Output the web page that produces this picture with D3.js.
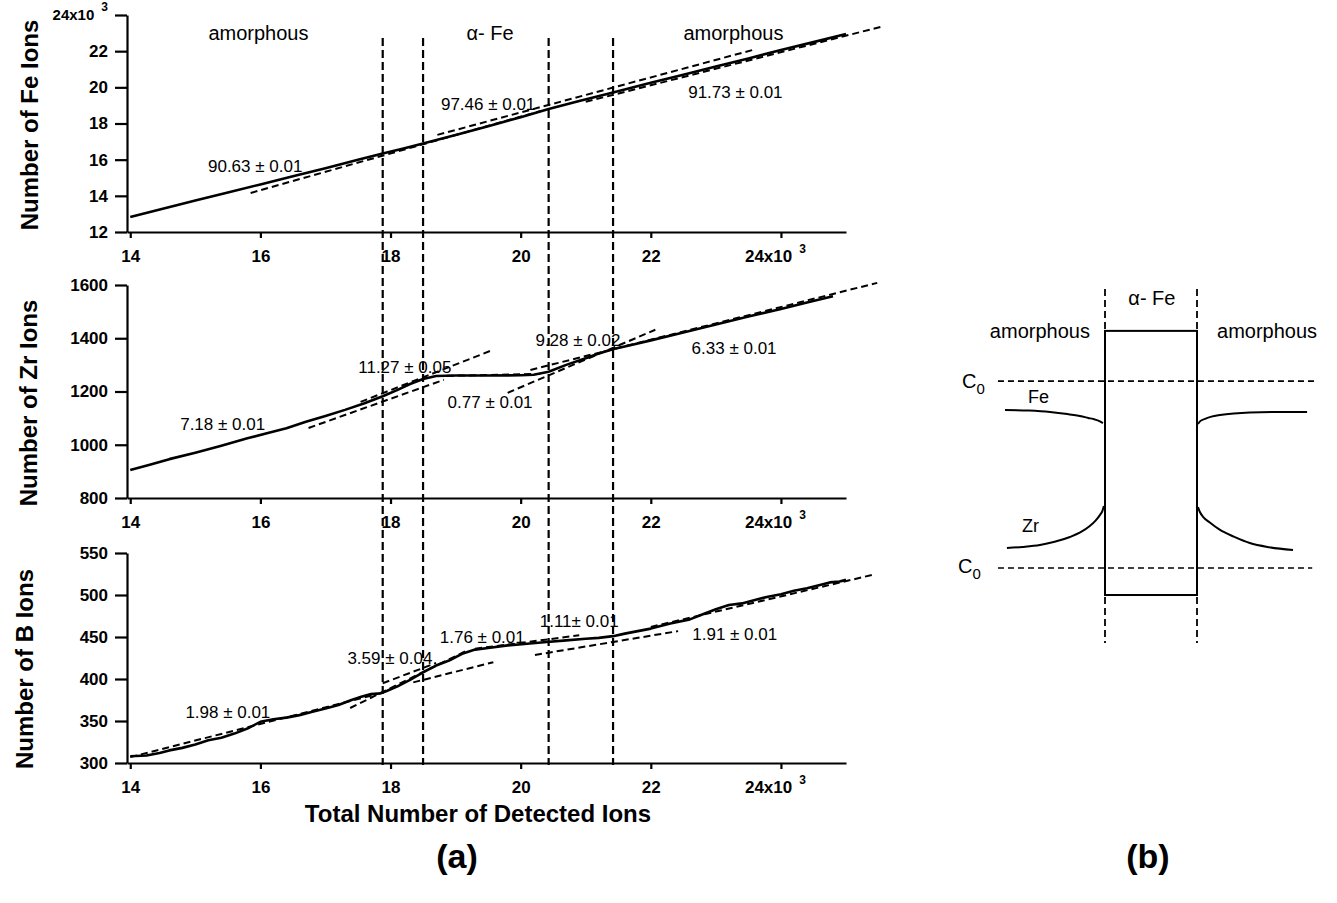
<!DOCTYPE html>
<html>
<head>
<meta charset="utf-8">
<script src="https://cdn.jsdelivr.net/npm/d3@7"></script>
<style>
  body { margin: 0; background: #fff; }
  svg { display: block; }
  text { font-family: "Liberation Sans", Arial, Helvetica, sans-serif; fill: #000; }
</style>
</head>
<body>
<svg id="fig" width="1337" height="903"></svg>
<script>
// ---------- data ----------
// total number of detected ions (x10^3)
const xTicks = [14, 16, 18, 20, 22, 24];
// phase boundaries amorphous | alpha-Fe | amorphous
const boundaries = [17.88, 18.5, 20.43, 21.42];
const regionNames = ["amorphous", "α- Fe", "amorphous"];

const feTicks = [12, 14, 16, 18, 20, 22, 24];
const zrTicks = [800, 1000, 1200, 1400, 1600];
const bTicks = [300, 350, 400, 450, 500, 550];

// cumulative Fe ions (x10^3) vs total ions (x10^3)
const feCounts = [
  [14.0, 12.83], [14.5, 13.28], [15.0, 13.74], [15.5, 14.19], [16.0, 14.63],
  [16.5, 15.08], [17.0, 15.53], [17.5, 15.99], [17.88, 16.34], [18.2, 16.62],
  [18.5, 16.90], [19.0, 17.37], [19.5, 17.85], [20.0, 18.35], [20.43, 18.80],
  [20.9, 19.25], [21.42, 19.72], [22.0, 20.25], [22.5, 20.70], [23.0, 21.15],
  [23.5, 21.60], [24.0, 22.06], [24.5, 22.50], [25.0, 22.95]
];
// cumulative Zr ions
const zrCounts = [
  [14.0, 905], [14.3, 925], [14.6, 946], [15.0, 970], [15.4, 996], [15.8, 1024],
  [16.1, 1043], [16.4, 1062], [16.7, 1086], [17.0, 1108], [17.3, 1131], [17.6, 1156],
  [17.88, 1182], [18.1, 1205], [18.3, 1228], [18.5, 1247], [18.7, 1258], [19.0, 1260],
  [19.5, 1260], [20.0, 1261], [20.2, 1263], [20.43, 1274], [20.7, 1300], [21.0, 1325],
  [21.2, 1343], [21.43, 1360], [21.7, 1375], [22.0, 1392], [22.5, 1422], [23.0, 1452],
  [23.5, 1482], [24.0, 1510], [24.4, 1534], [24.8, 1558]
];
// cumulative B ions
const bCounts = [
  [14.0, 308], [14.25, 309], [14.45, 312], [14.6, 315], [14.8, 318], [15.0, 322],
  [15.2, 327], [15.4, 330], [15.6, 335], [15.8, 341], [16.0, 349], [16.2, 352],
  [16.4, 354], [16.6, 357], [16.8, 361], [17.0, 365], [17.2, 369], [17.4, 375],
  [17.55, 379], [17.7, 382], [17.85, 383], [17.95, 386], [18.1, 391], [18.3, 399],
  [18.5, 408], [18.7, 416], [18.9, 422], [19.1, 430], [19.3, 435], [19.5, 437],
  [19.8, 440], [20.1, 442], [20.4, 444], [20.7, 446], [21.0, 448], [21.2, 449],
  [21.42, 451], [21.6, 454], [21.8, 457], [22.0, 460], [22.3, 466], [22.6, 471],
  [22.8, 477], [23.0, 483], [23.2, 488], [23.4, 490], [23.6, 494], [23.8, 498],
  [24.0, 501], [24.2, 505], [24.4, 508], [24.6, 512], [24.75, 515], [24.9, 516],
  [25.0, 518]
];

// linear fits (end points) and their slopes in percent
const feFits = [[[15.85, 14.16], [20.31, 18.69]], [[18.72, 17.37], [23.57, 22.07]], [[21.0, 19.20], [25.53, 23.34]]];
const feSlopes = ["90.63 ± 0.01", "97.46 ± 0.01", "91.73 ± 0.01"];

const zrFits = [[[16.74, 1063], [18.82, 1244]], [[17.54, 1161], [19.57, 1356]], [[18.7, 1258], [20.3, 1266]],
                [[19.80, 1195], [22.07, 1432]], [[20.15, 1281], [25.48, 1608]]];
const zrSlopes = ["7.18 ± 0.01", "11.27 ± 0.05", "0.77 ± 0.01", "9.28 ± 0.02", "6.33 ± 0.01"];

const bFits = [[[14.0, 307], [17.9, 384]], [[17.38, 365.5], [19.19, 434.5]], [[17.88, 395], [18.70, 419]],
               [[18.35, 396], [19.58, 420]], [[19.3, 436], [20.9, 452]], [[20.22, 428.6], [22.42, 457]],
               [[22.0, 462], [25.41, 524]]];
const bSlopes = ["1.98 ± 0.01", "3.59 ± 0.04", "1.76 ± 0.01", "1.11± 0.01", "1.91 ± 0.01"];

// schematic profiles across the alpha-Fe grain (arbitrary units)
const interfaces = [33.75, 62.5];
const alphaFeLevels = [84.1, 1.56];
const c0Levels = [68.4, 10];
const feProfileLeft = [[2.5, 59.4], [10, 59.2], [16.6, 58.75], [22, 58.1], [25.9, 57.5], [28.5, 56.9], [30.6, 56.4], [32, 55.9], [33.1, 55.3]];
const feProfileRight = [[62.8, 55], [63.5, 55.9], [65, 56.6], [67, 57.3], [69.7, 57.8], [74, 58.3], [79, 58.6], [88, 58.75], [96.9, 58.75]];
const zrProfileLeft = [[3.1, 16.25], [8, 16.6], [13.4, 17.2], [18, 18.2], [22.8, 19.7], [26, 21.1], [29, 23.1], [30.8, 24.8], [32.2, 26.6], [33, 28], [33.4, 29.4]];
const zrProfileRight = [[62.8, 29], [63.4, 27.5], [64.4, 26], [66.5, 24.2], [69.7, 21.9], [74, 19.8], [79, 17.8], [85, 16.5], [92.5, 15.6]];

// ---------- layout ----------
const svg = d3.select("#fig");
const DASH = "7,4";
const x = d3.scaleLinear().domain([13.95, 25.0]).range([127, 846]);

const panels = [
  { title: "Number of Fe Ions", titleAt: [38, 125], domain: [12, 24], range: [232, 15],
    ticks: feTicks, series: feCounts, fits: feFits, slopes: feSlopes,
    slopeAt: [[15.92, 15.32], [19.50, 18.75], [23.30, 19.41]] },
  { title: "Number of Zr Ions", titleAt: [37, 403], domain: [800, 1600], range: [498, 285],
    ticks: zrTicks, series: zrCounts, fits: zrFits, slopes: zrSlopes,
    slopeAt: [[15.42, 1055], [18.22, 1269.5], [19.53, 1138], [20.88, 1371], [23.28, 1341]] },
  { title: "Number of B Ions", titleAt: [33, 669], domain: [300, 550], range: [763, 553],
    ticks: bTicks, series: bCounts, fits: bFits, slopes: bSlopes,
    slopeAt: [[15.50, 353.6], [17.99, 417.9], [19.41, 442.9], [20.90, 461.9], [23.29, 446.4]] }
];

function superLabel(sel, base) {
  sel.text(null);
  sel.append("tspan").text(base);
  sel.append("tspan").attr("dx", 7).attr("dy", -9).attr("font-size", 12).text("3");
}

panels.forEach(p => {
  const y = d3.scaleLinear().domain(p.domain).range(p.range);
  const g = svg.append("g");

  // y axis
  const ya = g.append("g").attr("transform", `translate(${x.range()[0]},0)`)
    .call(d3.axisLeft(y).tickValues(p.ticks).tickSize(12).tickSizeOuter(0).tickPadding(7).tickFormat(d3.format("d")));
  ya.select(".domain").attr("stroke", "#000").attr("stroke-width", 2.2);
  ya.selectAll(".tick line").attr("stroke", "#000").attr("stroke-width", 2.2);
  ya.selectAll(".tick text").attr("font-size", 17).attr("font-weight", "bold")
    .attr("font-family", "Liberation Sans, Arial, sans-serif");
  if (p.domain[1] === 24) {
    ya.selectAll(".tick text").filter(d => d === 24).attr("font-size", 15)
      .call(t => superLabel(t, "24x10"));
  }

  // x axis
  const xa = g.append("g").attr("transform", `translate(0,${p.range[0]})`)
    .call(d3.axisBottom(x).tickValues(xTicks).tickSize(6).tickSizeOuter(0).tickPadding(12).tickFormat(d3.format("d")));
  xa.select(".domain").attr("stroke", "#000").attr("stroke-width", 2.2);
  xa.selectAll(".tick line").attr("stroke", "#000").attr("stroke-width", 2.2);
  xa.selectAll(".tick text").attr("font-size", 17).attr("font-weight", "bold")
    .attr("font-family", "Liberation Sans, Arial, sans-serif");
  xa.selectAll(".tick text").filter(d => d === 24).attr("dx", -6)
    .call(t => superLabel(t, "24x10"));

  // measured curve
  const line = d3.line().x(d => x(d[0])).y(d => y(d[1]));
  g.append("path").datum(p.series).attr("d", line)
    .attr("fill", "none").attr("stroke", "#000").attr("stroke-width", 2.6)
    .attr("stroke-linejoin", "round");

  // fitted lines
  g.selectAll(".fit").data(p.fits).join("path").attr("class", "fit")
    .attr("d", line).attr("fill", "none").attr("stroke", "#000")
    .attr("stroke-width", 2).attr("stroke-dasharray", DASH);

  // slope labels
  g.selectAll(".slope").data(p.slopes).join("text").attr("class", "slope")
    .attr("x", (d, i) => x(p.slopeAt[i][0])).attr("y", (d, i) => y(p.slopeAt[i][1]))
    .attr("text-anchor", "middle").attr("font-size", 17).text(d => d);

  // axis title
  svg.append("text").attr("transform", `translate(${p.titleAt[0]},${p.titleAt[1]}) rotate(-90)`)
    .attr("text-anchor", "middle").attr("font-size", 24).attr("font-weight", "bold").text(p.title);
});

// phase boundaries through all panels
svg.selectAll(".boundary").data(boundaries).join("line").attr("class", "boundary")
  .attr("x1", d => x(d)).attr("x2", d => x(d)).attr("y1", 38).attr("y2", 765)
  .attr("stroke", "#000").attr("stroke-width", 2.2).attr("stroke-dasharray", "8,4");

// region names
const topY = d3.scaleLinear().domain(panels[0].domain).range(panels[0].range);
const regionCenters = [15.97, 19.53, 23.27];
svg.selectAll(".region").data(regionNames).join("text").attr("class", "region")
  .attr("x", (d, i) => x(regionCenters[i])).attr("y", topY(22.62))
  .attr("text-anchor", "middle").attr("font-size", 20).text(d => d);

svg.append("text").attr("x", 478).attr("y", 822).attr("text-anchor", "middle")
  .attr("font-size", 24).attr("font-weight", "bold").text("Total Number of Detected Ions");

svg.append("text").attr("x", 457).attr("y", 868).attr("text-anchor", "middle")
  .attr("font-size", 34).attr("font-weight", "bold").text("(a)");
svg.append("text").attr("x", 1148).attr("y", 868).attr("text-anchor", "middle")
  .attr("font-size", 34).attr("font-weight", "bold").text("(b)");

// ---------- (b) schematic ----------
const xb = d3.scaleLinear().domain([0, 100]).range([997, 1317]);
const yb = d3.scaleLinear().domain([0, 100]).range([600, 280]);
const gb = svg.append("g");
const lb = d3.line().x(d => xb(d[0])).y(d => yb(d[1])).curve(d3.curveMonotoneX);

gb.selectAll(".iface").data(interfaces).join("line").attr("class", "iface")
  .attr("x1", d => xb(d)).attr("x2", d => xb(d)).attr("y1", yb(97.2)).attr("y2", yb(-13.4))
  .attr("stroke", "#000").attr("stroke-width", 1.8).attr("stroke-dasharray", "7,4");

gb.selectAll(".c0").data(c0Levels).join("line").attr("class", "c0")
  .attr("x1", xb(0.3)).attr("x2", (d, i) => xb(i === 0 ? 100 : 98.5))
  .attr("y1", d => yb(d)).attr("y2", d => yb(d))
  .attr("stroke", "#000").attr("stroke-width", 1.6).attr("stroke-dasharray", "6,4");

gb.append("rect")
  .attr("x", xb(interfaces[0])).attr("y", yb(alphaFeLevels[0]))
  .attr("width", xb(interfaces[1]) - xb(interfaces[0]))
  .attr("height", yb(alphaFeLevels[1]) - yb(alphaFeLevels[0]))
  .attr("fill", "none").attr("stroke", "#000").attr("stroke-width", 2);

[feProfileLeft, feProfileRight, zrProfileLeft, zrProfileRight].forEach(pr => {
  gb.append("path").datum(pr).attr("d", lb).attr("fill", "none")
    .attr("stroke", "#000").attr("stroke-width", 2);
});

gb.append("text").attr("x", xb(48.4)).attr("y", yb(92.2)).attr("text-anchor", "middle")
  .attr("font-size", 20).text("α- Fe");
gb.append("text").attr("x", xb(13.4)).attr("y", yb(81.9)).attr("text-anchor", "middle")
  .attr("font-size", 20).text("amorphous");
gb.append("text").attr("x", xb(84.4)).attr("y", yb(81.9)).attr("text-anchor", "middle")
  .attr("font-size", 20).text("amorphous");
gb.append("text").attr("x", xb(9.7)).attr("y", yb(61.6)).attr("font-size", 18).text("Fe");
gb.append("text").attr("x", xb(7.8)).attr("y", yb(21.25)).attr("font-size", 18).text("Zr");

[[-10.9, 66.25], [-12.2, 8.4]].forEach(pos => {
  const t = gb.append("text").attr("x", xb(pos[0])).attr("y", yb(pos[1])).attr("font-size", 20);
  t.append("tspan").text("C");
  t.append("tspan").attr("dy", 6).attr("font-size", 15).text("0");
});
</script>
</body>
</html>
